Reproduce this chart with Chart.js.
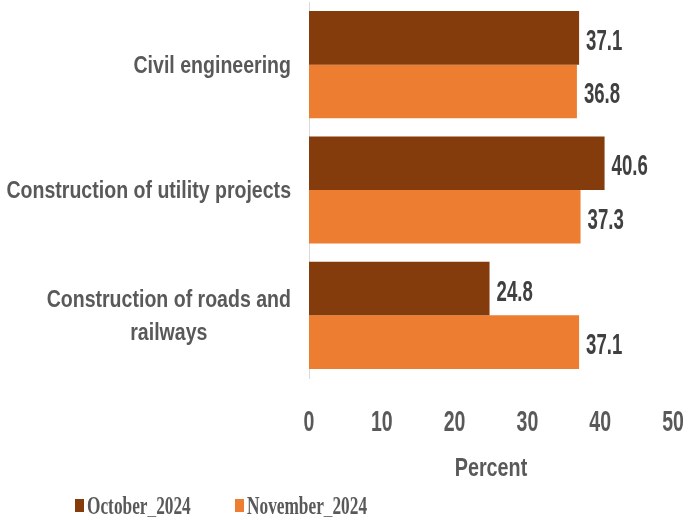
<!DOCTYPE html>
<html><head><meta charset="utf-8">
<script src="https://cdn.jsdelivr.net/npm/chart.js@4.4.0/dist/chart.umd.min.js"></script>
<style>html,body{margin:0;padding:0;background:#fff}#wrap{width:683px;height:517px;position:relative}</style>
</head><body><div id="wrap"><canvas id="c" width="683" height="517"></canvas></div>
<script>
const categories = ["Civil engineering", "Construction of utility projects", ["Construction of roads and", "railways"]];
const seriesNames = ["October_2024", "November_2024"];
const october = [37.1, 40.6, 24.8];
const november = [36.8, 37.3, 37.1];
const xTicks = [0, 10, 20, 30, 40, 50];
const axisTitle = "Percent";
const colors = ["#843C0C", "#ED7D31"];

const SANS = '"Liberation Sans", Arial, sans-serif';
const SERIF = '"Liberation Serif", "Times New Roman", serif';

function drawText(ctx, t, x, y, font, color, sx, align, baseline) {
  ctx.save();
  ctx.translate(x, y);
  ctx.scale(sx, 1);
  ctx.font = font;
  ctx.fillStyle = color;
  ctx.textAlign = align;
  ctx.textBaseline = baseline || 'alphabetic';
  ctx.fillText(t, 0, 0);
  ctx.restore();
}

const overlay = {
  id: 'overlay',
  afterDatasetsDraw(chart) {
    const ctx = chart.ctx;
    const area = chart.chartArea;
    // value labels
    chart.data.datasets.forEach((ds, di) => {
      const meta = chart.getDatasetMeta(di);
      meta.data.forEach((bar, i) => {
        drawText(ctx, ds.data[i].toFixed(1), bar.x + 7, bar.y + 12,
          '700 30px ' + SANS, '#404040', 0.62, 'left');
      });
    });
    // category labels
    const ys = chart.scales.y;
    const right = area.left - 18;
    const sx = 0.85;
    ctx.save();
    ctx.font = '700 23px ' + SANS;
    chart.data.labels.forEach((c, i) => {
      const lines = Array.isArray(c) ? c : [c];
      const w = Math.max(...lines.map(l => ctx.measureText(l).width)) * sx;
      const cx = right - w / 2;
      const cy = ys.getPixelForValue(i);
      const lh = 33;
      lines.forEach((l, k) => {
        drawText(ctx, l, cx, cy + 8 + (k - (lines.length - 1) / 2) * lh,
          '700 23px ' + SANS, '#595959', sx, 'center');
      });
    });
    ctx.restore();
    // x tick labels
    const xs = chart.scales.x;
    xTicks.forEach(v => {
      drawText(ctx, String(v), xs.getPixelForValue(v), area.bottom + 53,
        '700 30px ' + SANS, '#595959', 0.65, 'center');
    });
    // axis title
    drawText(ctx, axisTitle, (area.left + area.right) / 2, area.bottom + 98,
      '700 26px ' + SANS, '#595959', 0.76, 'center');
    // legend
    const legendX = [75, 235];
    const ly = 505;
    chart.data.datasets.forEach((ds, di) => {
      ctx.fillStyle = ds.backgroundColor;
      ctx.fillRect(legendX[di], ly - 6, 9, 13);
      drawText(ctx, ds.label, legendX[di] + 12, ly + 9, '700 26px ' + SERIF, '#595959', 0.665, 'left');
    });
  }
};

new Chart(document.getElementById('c'), {
  type: 'bar',
  data: {
    labels: categories,
    datasets: [
      { label: seriesNames[0], data: october, backgroundColor: colors[0], barPercentage: 1, categoryPercentage: 0.855 },
      { label: seriesNames[1], data: november, backgroundColor: colors[1], barPercentage: 1, categoryPercentage: 0.855 }
    ]
  },
  options: {
    responsive: false,
    animation: false,
    indexAxis: 'y',
    layout: { padding: { left: 309, right: 10, top: 2, bottom: 139 } },
    plugins: { legend: { display: false }, tooltip: { enabled: false } },
    scales: {
      x: {
        min: xTicks[0], max: xTicks[xTicks.length - 1],
        ticks: { display: false, stepSize: 10 },
        grid: { display: false, drawTicks: false },
        border: { display: false }
      },
      y: {
        ticks: { display: false },
        grid: { display: false, drawTicks: false },
        border: { display: true, color: '#D9D9D9', width: 1 }
      }
    }
  },
  plugins: [overlay]
});
</script>
</body></html>
